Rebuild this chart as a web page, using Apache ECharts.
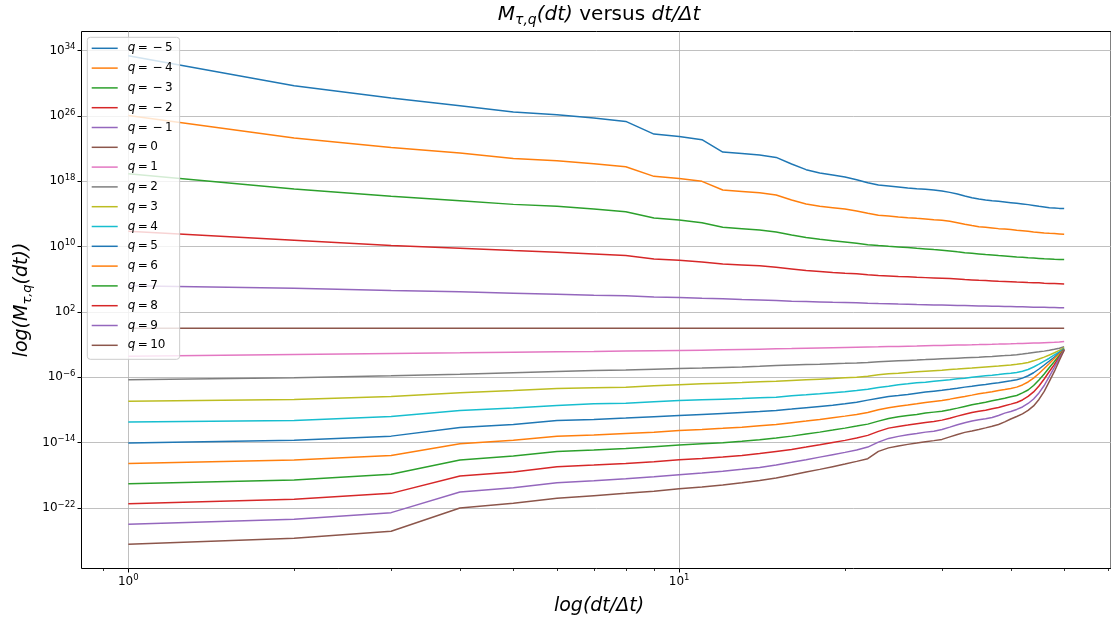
<!DOCTYPE html>
<html>
<head>
<meta charset="utf-8">
<script src="https://cdn.jsdelivr.net/npm/echarts@6/dist/echarts.min.js"></script>
<style>
  html, body { margin: 0; padding: 0; background: #ffffff; }
  #chart { width: 1111px; height: 623px; }
</style>
</head>
<body>
<div id="chart"></div>
<script>
// Time-scale steps dt/Δt
const dtSteps = [1, 2, 3, 4, 5, 6, 7, 8, 9, 10, 11, 12, 13, 14, 15, 16, 17, 18, 19, 20,
  21, 22, 23, 24, 25, 26, 27, 28, 29, 30, 31, 32, 33, 34, 35, 36, 37, 38, 39, 40,
  41, 42, 43, 44, 45, 46, 47, 48, 49, 50];

// Moment orders
const qValues = [-5, -4, -3, -2, -1, 0, 1, 2, 3, 4, 5, 6, 7, 8, 9, 10];

// log10 of M_{tau,q}(dt), one array per q
const log10M_qm5 = [33.35, 29.68, 28.18, 27.24, 26.46, 26.13, 25.73, 25.32, 23.77, 23.48,
  23.08, 21.57, 21.40, 21.20, 20.91, 20.10, 19.41, 19.00, 18.76, 18.51,
  18.18, 17.82, 17.53, 17.41, 17.29, 17.18, 17.08, 17.00, 16.92, 16.80,
  16.63, 16.43, 16.19, 15.98, 15.82, 15.70, 15.61, 15.53, 15.45, 15.37,
  15.29, 15.21, 15.13, 15.03, 14.92, 14.84, 14.76, 14.72, 14.67, 14.64];
const log10M_qm4 = [26.05, 23.28, 22.13, 21.45, 20.79, 20.51, 20.14, 19.77, 18.59, 18.34,
  17.98, 16.92, 16.75, 16.59, 16.31, 15.70, 15.21, 14.92, 14.76, 14.60,
  14.35, 14.06, 13.82, 13.74, 13.62, 13.53, 13.45, 13.38, 13.29, 13.21,
  13.08, 12.92, 12.72, 12.56, 12.43, 12.35, 12.27, 12.19, 12.13, 12.07,
  11.98, 11.92, 11.86, 11.78, 11.72, 11.66, 11.61, 11.58, 11.54, 11.49];
const log10M_qm3 = [18.92, 17.04, 16.14, 15.61, 15.16, 14.92, 14.60, 14.27, 13.50, 13.25,
  12.92, 12.35, 12.19, 12.03, 11.78, 11.42, 11.09, 10.88, 10.72, 10.56,
  10.39, 10.23, 10.11, 10.02, 9.95, 9.87, 9.78, 9.71, 9.62, 9.54,
  9.46, 9.35, 9.25, 9.17, 9.09, 9.01, 8.95, 8.89, 8.85, 8.79,
  8.73, 8.68, 8.62, 8.58, 8.54, 8.50, 8.48, 8.44, 8.42, 8.40];
const log10M_qm2 = [11.86, 10.76, 10.11, 9.78, 9.50, 9.29, 9.09, 8.89, 8.48, 8.31,
  8.11, 7.87, 7.75, 7.63, 7.46, 7.26, 7.05, 6.93, 6.81, 6.72,
  6.65, 6.54, 6.46, 6.40, 6.34, 6.29, 6.23, 6.19, 6.15, 6.11,
  6.07, 6.01, 5.95, 5.91, 5.86, 5.83, 5.79, 5.74, 5.71, 5.68,
  5.64, 5.62, 5.58, 5.56, 5.55, 5.50, 5.48, 5.46, 5.44, 5.42];
const log10M_qm1 = [5.18, 4.89, 4.61, 4.45, 4.28, 4.15, 4.03, 3.96, 3.83, 3.75,
  3.66, 3.59, 3.50, 3.46, 3.38, 3.30, 3.26, 3.22, 3.17, 3.14,
  3.10, 3.05, 3.01, 2.98, 2.95, 2.93, 2.89, 2.87, 2.85, 2.83,
  2.81, 2.79, 2.77, 2.75, 2.73, 2.71, 2.69, 2.67, 2.65, 2.64,
  2.62, 2.61, 2.59, 2.57, 2.56, 2.55, 2.53, 2.52, 2.50, 2.49];
const log10M_q0 = [0, 0, 0, 0, 0, 0, 0, 0, 0, 0,
  0, 0, 0, 0, 0, 0, 0, 0, 0, 0,
  0, 0, 0, 0, 0, 0, 0, 0, 0, 0,
  0, 0, 0, 0, 0, 0, 0, 0, 0, 0,
  0, 0, 0, 0, 0, 0, 0, 0, 0, 0];
const log10M_q1 = [-3.43, -3.22, -3.10, -3.02, -2.95, -2.90, -2.86, -2.81, -2.77, -2.73,
  -2.69, -2.65, -2.61, -2.57, -2.53, -2.50, -2.46, -2.43, -2.40, -2.37,
  -2.34, -2.31, -2.28, -2.25, -2.23, -2.20, -2.18, -2.15, -2.13, -2.11,
  -2.09, -2.07, -2.05, -2.03, -2.01, -1.99, -1.97, -1.95, -1.93, -1.91,
  -1.89, -1.87, -1.85, -1.83, -1.81, -1.78, -1.75, -1.72, -1.68, -1.63];
const log10M_q2 = [-6.32, -6.07, -5.83, -5.63, -5.46, -5.31, -5.19, -5.12, -5.03, -4.95,
  -4.88, -4.81, -4.74, -4.66, -4.58, -4.52, -4.46, -4.41, -4.36, -4.31,
  -4.25, -4.19, -4.12, -4.06, -4.00, -3.95, -3.90, -3.85, -3.80, -3.75,
  -3.71, -3.67, -3.63, -3.59, -3.55, -3.50, -3.46, -3.41, -3.36, -3.31,
  -3.24, -3.16, -3.07, -2.98, -2.90, -2.81, -2.71, -2.59, -2.45, -2.28];
const log10M_q3 = [-8.94, -8.73, -8.36, -7.91, -7.63, -7.38, -7.30, -7.22, -7.05, -6.93,
  -6.81, -6.73, -6.65, -6.56, -6.49, -6.40, -6.32, -6.24, -6.16, -6.07,
  -6.00, -5.88, -5.71, -5.58, -5.51, -5.42, -5.34, -5.27, -5.20, -5.14,
  -5.06, -5.00, -4.94, -4.88, -4.81, -4.75, -4.69, -4.63, -4.57, -4.51,
  -4.43, -4.33, -4.20, -4.00, -3.78, -3.54, -3.28, -3.01, -2.72, -2.40];
const log10M_q4 = [-11.50, -11.30, -10.81, -10.07, -9.79, -9.46, -9.26, -9.18, -9.01, -8.85,
  -8.77, -8.69, -8.61, -8.52, -8.45, -8.28, -8.16, -8.03, -7.90, -7.78,
  -7.64, -7.47, -7.26, -7.10, -6.93, -6.81, -6.69, -6.61, -6.50, -6.40,
  -6.31, -6.20, -6.12, -6.01, -5.91, -5.83, -5.76, -5.67, -5.58, -5.51,
  -5.42, -5.27, -5.06, -4.75, -4.41, -4.04, -3.68, -3.28, -2.89, -2.49];
const log10M_q5 = [-14.07, -13.71, -13.22, -12.15, -11.79, -11.30, -11.17, -11.01, -10.84, -10.69,
  -10.56, -10.44, -10.32, -10.20, -10.07, -9.91, -9.74, -9.58, -9.43, -9.26,
  -9.06, -8.81, -8.57, -8.36, -8.24, -8.12, -7.96, -7.83, -7.71, -7.59,
  -7.47, -7.35, -7.22, -7.10, -6.98, -6.89, -6.77, -6.69, -6.56, -6.44,
  -6.32, -6.12, -5.83, -5.46, -5.00, -4.51, -4.02, -3.53, -3.02, -2.53];
const log10M_q6 = [-16.56, -16.15, -15.58, -14.15, -13.71, -13.22, -13.09, -12.89, -12.73, -12.52,
  -12.40, -12.27, -12.12, -11.95, -11.79, -11.58, -11.38, -11.18, -10.97, -10.77,
  -10.56, -10.32, -9.99, -9.75, -9.55, -9.42, -9.26, -9.09, -8.97, -8.85,
  -8.69, -8.52, -8.36, -8.20, -8.03, -7.91, -7.79, -7.63, -7.51, -7.38,
  -7.22, -6.95, -6.59, -6.12, -5.55, -4.94, -4.33, -3.71, -3.14, -2.58];
const log10M_q7 = [-19.04, -18.60, -17.90, -16.15, -15.66, -15.09, -14.93, -14.72, -14.51, -14.32,
  -14.15, -14.02, -13.86, -13.66, -13.46, -13.22, -12.97, -12.73, -12.48, -12.24,
  -11.99, -11.75, -11.38, -11.05, -10.84, -10.69, -10.56, -10.40, -10.28, -10.16,
  -9.99, -9.79, -9.58, -9.38, -9.22, -9.06, -8.89, -8.73, -8.57, -8.40,
  -8.24, -7.93, -7.57, -7.02, -6.34, -5.61, -4.81, -4.08, -3.35, -2.61];
const log10M_q8 = [-21.49, -20.96, -20.23, -18.11, -17.62, -16.96, -16.76, -16.56, -16.35, -16.11,
  -15.95, -15.79, -15.58, -15.34, -15.09, -14.85, -14.56, -14.27, -13.99, -13.74,
  -13.46, -13.13, -12.64, -12.24, -12.03, -11.87, -11.70, -11.54, -11.42, -11.26,
  -11.02, -10.77, -10.53, -10.32, -10.16, -10.04, -9.87, -9.71, -9.50, -9.30,
  -9.10, -8.79, -8.36, -7.81, -7.08, -6.22, -5.30, -4.45, -3.53, -2.65];
const log10M_q9 = [-24.02, -23.41, -22.59, -20.07, -19.53, -18.92, -18.67, -18.43, -18.18, -17.94,
  -17.74, -17.53, -17.29, -17.05, -16.76, -16.43, -16.11, -15.79, -15.49, -15.21,
  -14.93, -14.56, -13.95, -13.50, -13.25, -13.05, -12.89, -12.73, -12.61, -12.40,
  -12.12, -11.82, -11.58, -11.38, -11.21, -11.09, -10.93, -10.69, -10.40, -10.20,
  -9.95, -9.65, -9.22, -8.67, -7.93, -7.02, -5.91, -4.81, -3.71, -2.67];
const log10M_q10 = [-26.46, -25.73, -24.87, -22.02, -21.45, -20.84, -20.51, -20.23, -19.98, -19.65,
  -19.46, -19.21, -18.92, -18.64, -18.36, -17.99, -17.62, -17.29, -16.96, -16.64,
  -16.31, -15.98, -15.09, -14.66, -14.42, -14.23, -14.07, -13.90, -13.77, -13.62,
  -13.31, -13.01, -12.76, -12.58, -12.40, -12.21, -12.01, -11.79, -11.48, -11.12,
  -10.81, -10.50, -10.07, -9.52, -8.73, -7.75, -6.52, -5.30, -3.96, -2.70];

// Tick positions
const xMajorTicks = [1, 10];
const xMinorTicks = [0.9, 2, 3, 4, 5, 6, 7, 8, 9, 20, 30, 40, 50, 60];
const yTickExponents = [-22, -14, -6, 2, 10, 18, 26, 34];

const log10M = [log10M_qm5, log10M_qm4, log10M_qm3, log10M_qm2, log10M_qm1, log10M_q0,
  log10M_q1, log10M_q2, log10M_q3, log10M_q4, log10M_q5, log10M_q6, log10M_q7,
  log10M_q8, log10M_q9, log10M_q10];

const palette = ['#1f77b4', '#ff7f0e', '#2ca02c', '#d62728', '#9467bd',
  '#8c564b', '#e377c2', '#7f7f7f', '#bcbd22', '#17becf'];
const FONT = 'DejaVu Sans';
const MINUS = '\u2212';

// Axis extents (log10 space)
const xLogMin = -0.085, xLogMax = 1.784;
const yLogMin = -29.43, yLogMax = 36.33;

const seriesName = q => 'q = ' + q;

const series = qValues.map((q, k) => ({
  name: seriesName(q),
  type: 'line',
  xAxisIndex: 0,
  yAxisIndex: 0,
  data: dtSteps.map((d, i) => [d, Math.pow(10, log10M[k][i])]),
  symbol: 'none',
  showSymbol: false,
  lineStyle: { width: 1.5, color: palette[k % palette.length] },
  itemStyle: { color: palette[k % palette.length] },
  emphasis: { disabled: true },
  z: 2
}));

const powerLabel = v => {
  const e = Math.round(Math.log10(v));
  const s = e < 0 ? MINUS + (-e) : String(e);
  return '{b|10}{s|' + s + '}';
};
const powerRich = {
  b: { fontFamily: FONT, fontSize: 12, color: '#000', lineHeight: 16, verticalAlign: 'middle' },
  s: { fontFamily: FONT, fontSize: 8.5, color: '#000', lineHeight: 9, verticalAlign: 'top' }
};

const legendLabel = name => {
  const q = Number(name.replace('q = ', ''));
  const rest = q < 0 ? '\u2009=\u2009\u2009' + MINUS + '\u2009' + (-q) : '\u2009=\u2009' + q;
  return '{i|q}{n|' + rest + '}';
};

const chart = echarts.init(document.getElementById('chart'), null, { renderer: 'canvas', width: 1111, height: 623 });

chart.setOption({
  animation: false,
  backgroundColor: '#ffffff',
  grid: {
    left: 81.5, top: 31.5, width: 1035, height: 537,
    show: true, borderColor: '#000000', borderWidth: 1, backgroundColor: 'transparent',
    containLabel: false
  },
  xAxis: [
    {
      type: 'log', logBase: 10,
      min: Math.pow(10, xLogMin), max: Math.pow(10, xLogMax),
      position: 'bottom',
      axisLine: { show: false },
      axisTick: { show: true, customValues: xMajorTicks, length: 4, lineStyle: { color: '#000', width: 1 } },
      minorTick: { show: false },
      axisLabel: { show: true, customValues: xMajorTicks, formatter: powerLabel, rich: powerRich, margin: 5 },
      splitLine: { show: true, lineStyle: { color: '#b0b0b0', width: 0.8 } },
      minorSplitLine: { show: false }
    },
    {
      type: 'log', logBase: 10,
      min: Math.pow(10, xLogMin), max: Math.pow(10, xLogMax),
      position: 'bottom',
      axisLine: { show: false },
      axisTick: { show: true, customValues: xMinorTicks, length: 2.5, lineStyle: { color: '#000', width: 0.8 } },
      axisLabel: { show: false },
      splitLine: { show: false }
    }
  ],
  yAxis: {
    type: 'log', logBase: 10,
    min: Math.pow(10, yLogMin), max: Math.pow(10, yLogMax),
    position: 'left',
    axisLine: { show: false },
    axisTick: { show: true, customValues: yTickExponents.map(e => Math.pow(10, e)), length: 4, lineStyle: { color: '#000', width: 1 } },
    minorTick: { show: false },
    axisLabel: { show: true, customValues: yTickExponents.map(e => Math.pow(10, e)), formatter: powerLabel, rich: powerRich, margin: 6 },
    splitLine: { show: true, lineStyle: { color: '#b0b0b0', width: 0.8 } }
  },
  legend: {
    orient: 'vertical',
    left: 87.3, top: 37.3,
    padding: [4, 7, 7, 4.4],
    itemWidth: 26, itemHeight: 14, itemGap: 5.8,
    icon: 'path://M0 0H52V3H0Z',
    backgroundColor: 'rgba(255,255,255,0.8)',
    borderColor: '#cccccc', borderWidth: 1, borderRadius: 3,
    selectedMode: false,
    data: qValues.map(seriesName),
    formatter: legendLabel,
    textStyle: {
      fontFamily: FONT, fontSize: 12, color: '#000', lineHeight: 14,
      rich: {
        i: { fontFamily: FONT, fontSize: 12, fontStyle: 'italic', color: '#000', padding: [0, 0, 0, 5] },
        n: { fontFamily: FONT, fontSize: 12, color: '#000' }
      }
    }
  },
  graphic: [
    {
      type: 'text', x: 599, y: 15, z: 10,
      style: {
        text: '{m|M}{s|\u03c4,q}{m|(dt)}{n| versus }{m|dt/\u0394t}',
        align: 'center', verticalAlign: 'middle', fill: '#000',
        rich: {
          m: { fontFamily: FONT, fontSize: 20, fontStyle: 'italic', fill: '#000', lineHeight: 24, verticalAlign: 'middle' },
          n: { fontFamily: FONT, fontSize: 20, fill: '#000', lineHeight: 24, verticalAlign: 'middle' },
          s: { fontFamily: FONT, fontSize: 14, fontStyle: 'italic', fill: '#000', lineHeight: 14, verticalAlign: 'bottom' }
        }
      }
    },
    {
      type: 'text', x: 599, y: 606, z: 10,
      style: {
        text: 'log(dt/\u0394t)',
        align: 'center', verticalAlign: 'middle', fill: '#000',
        font: 'italic 19px "DejaVu Sans"'
      }
    },
    {
      type: 'text', x: 22, y: 300, rotation: Math.PI / 2, z: 10,
      style: {
        text: '{m|log(M}{s|\u03c4,q}{m|(dt))}',
        align: 'center', verticalAlign: 'middle', fill: '#000',
        rich: {
          m: { fontFamily: FONT, fontSize: 19, fontStyle: 'italic', fill: '#000', lineHeight: 24, verticalAlign: 'middle' },
          s: { fontFamily: FONT, fontSize: 13, fontStyle: 'italic', fill: '#000', lineHeight: 14, verticalAlign: 'bottom' }
        }
      }
    }
  ],
  series: series
});
</script>
</body>
</html>
